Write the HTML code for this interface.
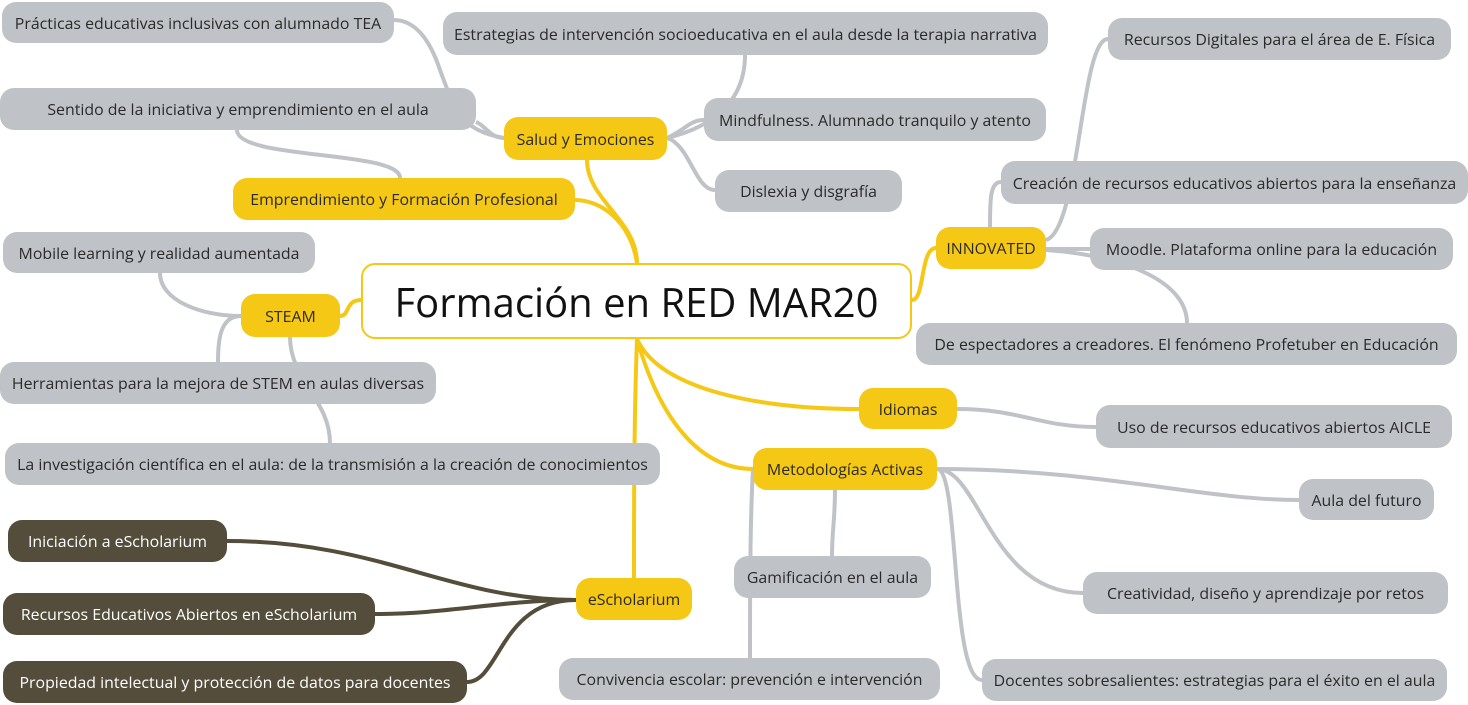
<!DOCTYPE html>
<html><head><meta charset="utf-8"><style>
body{margin:0;width:1468px;height:705px;position:relative;background:#fff;overflow:hidden;font-family:"Open Sans","Liberation Sans",sans-serif}
.n{position:absolute;box-sizing:border-box;border-radius:14px;display:flex;align-items:center;justify-content:center;font-size:15.9px;white-space:nowrap}
.g{background:#bfc3c7;color:#2a2a2a}
.y{background:#f5c816;color:#2a2a2a}
.d{background:#544d3b;color:#fff}
svg{position:absolute;left:0;top:0}
</style></head><body>
<svg width="1468" height="705" fill="none">
<g stroke="#f5c816" stroke-width="4">
<path d="M637 263 C637 220 587 200 587 160"/>
<path d="M637 263 C630 220 600 200 575 200"/>
<path d="M361 300 C345 300 350 316 340 316"/>
<path d="M912 300 C925 300 920 248 936 248"/>
<path d="M637 339 C660 390 760 409 859 409"/>
<path d="M637 339 C660 420 700 469 753 469"/>
<path d="M637 339 C634 420 634 500 634 578"/>
</g>
<g stroke="#bfc3c7" stroke-width="4">
<path d="M504 138 C460 130 455 110 440 70 C430 40 415 20 394 20"/>
<path d="M504 138 C490 138 485 125 476 122"/>
<path d="M667 138 C700 130 745 110 745 55"/>
<path d="M667 138 C685 130 690 120 704 120"/>
<path d="M667 138 C690 145 695 190 715 190"/>
<path d="M400 178 C400 150 237 160 237 130"/>
<path d="M241 316 C200 316 160 300 160 273"/>
<path d="M241 316 C220 316 218 340 218 362"/>
<path d="M290 337 C290 380 330 400 330 443"/>
<path d="M1046 240 C1080 230 1080 39 1108 39"/>
<path d="M990 227 C990 200 990 182 1001 182"/>
<path d="M1046 249 L1090 249"/>
<path d="M1046 250 C1120 255 1187 280 1187 323"/>
<path d="M957 409 C1020 409 1040 427 1096 427"/>
<path d="M937 469 C1100 469 1200 500 1299 500"/>
<path d="M937 469 C980 469 990 593 1083 593"/>
<path d="M937 469 C960 469 950 680 982 680"/>
<path d="M835 490 C835 520 832 530 832 556"/>
<path d="M753 469 C750 520 750 600 750 658"/>
</g>
<g stroke="#544d3b" stroke-width="4">
<path d="M576 600 C450 600 380 541 227 541"/>
<path d="M576 600 C500 600 450 614 375 614"/>
<path d="M576 600 C500 600 500 682 467 682"/>
</g>
</svg>
<div class="n" style="left:361px;top:263px;width:551px;height:76px;border:2px solid #f5c816;background:#fff;font-size:40px;color:#111">Formación en RED MAR20</div>
<div class="n y" style="left:504px;top:117px;width:163px;height:43px">Salud y Emociones</div>
<div class="n y" style="left:233px;top:178px;width:342px;height:42px">Emprendimiento y Formación Profesional</div>
<div class="n y" style="left:241px;top:294px;width:99px;height:43px">STEAM</div>
<div class="n y" style="left:936px;top:227px;width:110px;height:42px">INNOVATED</div>
<div class="n y" style="left:859px;top:388px;width:98px;height:41px">Idiomas</div>
<div class="n y" style="left:753px;top:448px;width:184px;height:42px">Metodologías Activas</div>
<div class="n y" style="left:576px;top:578px;width:116px;height:42px">eScholarium</div>
<div class="n g" style="left:2px;top:2px;width:392px;height:41px">Prácticas educativas inclusivas con alumnado TEA</div>
<div class="n g" style="left:443px;top:12px;width:605px;height:43px">Estrategias de intervención socioeducativa en el aula desde la terapia narrativa</div>
<div class="n g" style="left:0px;top:88px;width:476px;height:42px">Sentido de la iniciativa y emprendimiento en el aula</div>
<div class="n g" style="left:704px;top:98px;width:342px;height:43px">Mindfulness. Alumnado tranquilo y atento</div>
<div class="n g" style="left:715px;top:170px;width:187px;height:42px">Dislexia y disgrafía</div>
<div class="n g" style="left:1108px;top:18px;width:343px;height:42px">Recursos Digitales para el área de E. Física</div>
<div class="n g" style="left:1001px;top:161px;width:467px;height:43px">Creación de recursos educativos abiertos para la enseñanza</div>
<div class="n g" style="left:1090px;top:228px;width:363px;height:42px">Moodle. Plataforma online para la educación</div>
<div class="n g" style="left:916px;top:323px;width:541px;height:42px">De espectadores a creadores. El fenómeno Profetuber en Educación</div>
<div class="n g" style="left:3px;top:232px;width:312px;height:41px">Mobile learning y realidad aumentada</div>
<div class="n g" style="left:0px;top:362px;width:436px;height:42px">Herramientas para la mejora de STEM en aulas diversas</div>
<div class="n g" style="left:5px;top:443px;width:655px;height:42px">La investigación científica en el aula: de la transmisión a la creación de conocimientos</div>
<div class="n g" style="left:1096px;top:405px;width:356px;height:43px">Uso de recursos educativos abiertos AICLE</div>
<div class="n g" style="left:1299px;top:479px;width:135px;height:41px">Aula del futuro</div>
<div class="n g" style="left:734px;top:556px;width:197px;height:42px">Gamificación en el aula</div>
<div class="n g" style="left:1083px;top:572px;width:365px;height:42px">Creatividad, diseño y aprendizaje por retos</div>
<div class="n g" style="left:559px;top:658px;width:381px;height:42px">Convivencia escolar: prevención e intervención</div>
<div class="n g" style="left:982px;top:659px;width:465px;height:42px">Docentes sobresalientes: estrategias para el éxito en el aula</div>
<div class="n d" style="left:8px;top:520px;width:219px;height:42px">Iniciación a eScholarium</div>
<div class="n d" style="left:3px;top:593px;width:372px;height:42px">Recursos Educativos Abiertos en eScholarium</div>
<div class="n d" style="left:3px;top:661px;width:464px;height:42px">Propiedad intelectual y protección de datos para docentes</div>
</body></html>
